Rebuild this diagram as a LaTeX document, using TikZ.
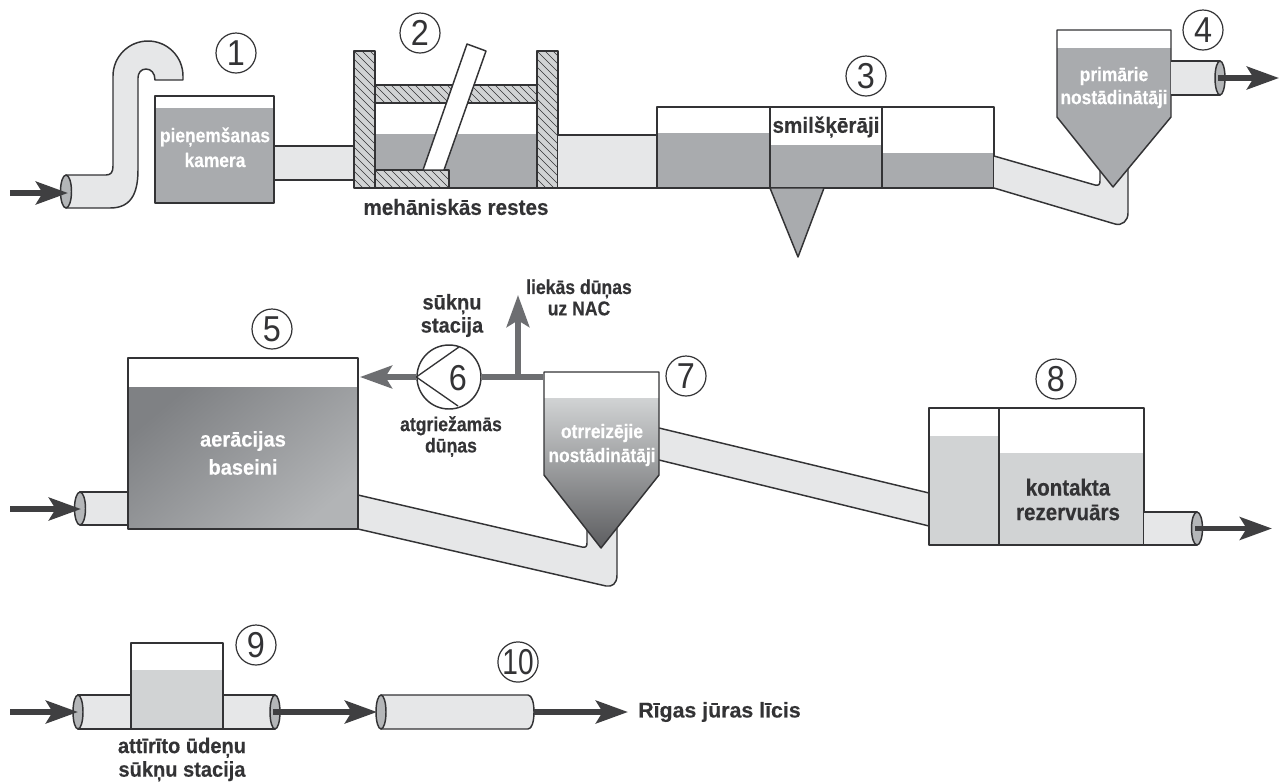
\documentclass[tikz,border=0pt]{standalone}
\usepackage{fontspec}
\setmainfont{Liberation Sans}
\newfontfamily\fA[FakeStretch=0.88,BoldFeatures={FakeBold=0.35}]{Liberation Sans}
\newfontfamily\fB[FakeStretch=0.94,BoldFeatures={FakeBold=0.35}]{Liberation Sans}
\newfontfamily\fC[FakeStretch=1.0,BoldFeatures={FakeBold=0.35}]{Liberation Sans}
\newfontfamily\digitfont[FakeStretch=0.9]{Liberation Sans}
\newfontfamily\digittight[FakeStretch=0.78]{Liberation Sans}
\usetikzlibrary{arrows.meta}
\definecolor{ink}{HTML}{333335}
\definecolor{water}{HTML}{A9ABAE}
\definecolor{clean}{HTML}{D1D3D4}
\definecolor{pipefill}{HTML}{E6E7E8}
\definecolor{capfill}{HTML}{B4B6B8}
\definecolor{arrowdark}{HTML}{3F3F41}
\definecolor{arrowgrey}{HTML}{6D6E71}
\definecolor{hatchbg}{HTML}{D1D3D4}
\definecolor{basintop}{HTML}{7F8184}
\definecolor{basinbot}{HTML}{B2B4B6}
\tikzset{
  outline/.style={draw=ink,line width=1.1pt,line join=round},
  pipebody/.style={outline,fill=pipefill},
  pipecap/.style={outline,fill=capfill},
  flow/.style={draw=arrowdark,line width=4.4pt,-{Stealth[length=24pt,width=17pt,inset=5pt]}},
  sludge/.style={draw=arrowgrey,line width=4.2pt,-{Stealth[length=24pt,width=17pt,inset=5pt]}},
  sludgeline/.style={draw=arrowgrey,line width=4.2pt},
  numcirc/.style={circle,draw=ink,line width=0.9pt,minimum size=30pt,inner sep=0pt,font=\digitfont\fontsize{27}{27}\selectfont,text=ink},
  lbl/.style={align=center,inner sep=0pt,text=ink},
  lblmech/.style={lbl,font=\fB\bfseries\fontsize{16.5}{17.3}\selectfont},
  lblsand/.style={lbl,font=\fB\bfseries\fontsize{16.5}{17.3}\selectfont},
  lblpump/.style={lbl,font=\fB\bfseries\fontsize{16}{17.3}\selectfont},
  lblsludge/.style={lbl,font=\fA\bfseries\fontsize{15}{16}\selectfont},
  lblcontact/.style={lbl,font=\fA\bfseries\fontsize{17.5}{18.5}\selectfont},
  lblsea/.style={lbl,font=\fC\bfseries\fontsize{16}{17.3}\selectfont},
  lblfinal/.style={lbl,font=\fB\bfseries\fontsize{16}{17.7}\selectfont},
  whitelbl/.style={lbl,text=white,font=\fA\bfseries\fontsize{14.8}{17.3}\selectfont},
  whitebig/.style={lbl,text=white,font=\fB\bfseries\fontsize{16}{17.3}\selectfont},
}
\newcommand{\hatchbox}[4]{%
  \begin{scope}
    \clip (#1,#2) rectangle (#3,#4);
    \fill[hatchbg] (#1,#2) rectangle (#3,#4);
    \pgfmathsetmacro{\hh}{#4-#2}
    \foreach \k in {-240,-232,...,600} {
      \draw[ink,line width=0.35pt] ({#1+\k},#2) -- ({#1+\k+\hh},#4);
    }
  \end{scope}
  \draw[outline] (#1,#2) rectangle (#3,#4);
}
\begin{document}
\begin{tikzpicture}[x=0.75pt,y=-0.75pt]
\useasboundingbox (0,0) rectangle (1279,783);

%% ---------- top row ----------
% intake pipe
\draw[pipebody] (66,175) -- (106,175) .. controls (111,175) and (113,172) .. (113,166)
  -- (113,76) arc[start angle=180,end angle=360,radius=35] -- (183,80) -- (155,80)
  .. controls (155,73) and (151,69) .. (146,69) .. controls (141,69) and (138,73) .. (138,78)
  -- (138,170) .. controls (138,195) and (130,208) .. (110,208) -- (66,208) -- cycle;
\draw[pipecap] (66,191.5) ellipse[x radius=5.5,y radius=16.5];
\coordinate (inA) at (10,193);
\coordinate (inAend) at (68,193);
\draw[flow] (inA) -- (inAend);

% pipe 1-2
\draw[pipebody] (274,146) -- (354,146) -- (354,180) -- (274,180);
% tank 1
\fill[white] (155,96) rectangle (274,203);
\fill[water] (155,108) rectangle (274,203);
\draw[outline] (155,96) rectangle (274,203);
\node[numcirc] (n1) at (236,53) {1};
\node[whitelbl] (t1a) at (215,137) {pieņemšanas};
\node[whitelbl] (t1b) at (215,160) {kamera};

% screens
\fill[water] (375,134) rectangle (537,188);
\draw[ink,line width=1.1pt] (375,188) -- (537,188);
\hatchbox{375}{85}{537}{103}
\hatchbox{375}{170}{449}{188}
\hatchbox{354}{51}{375}{188}
\hatchbox{537}{51}{558}{188}
\draw[outline,fill=white] (467,44) -- (486,51) -- (444,170) -- (423,170) -- cycle;
\node[numcirc] (n2) at (420,33) {2};
\node[lblmech] (t2) at (456,207) {mehāniskās restes};

% pipe 2-3
\draw[pipebody] (558,135) -- (657,135) -- (657,188) -- (558,188);

% grit chambers
\fill[water] (657,133) rectangle (770,188);
\fill[water] (770,145) rectangle (882,188);
\fill[water] (882,153) rectangle (994,188);
\draw[outline] (657,107) rectangle (994,188);
\draw[outline] (770,107) -- (770,188);
\draw[outline] (882,107) -- (882,188);
\draw[outline,fill=water] (770,188) -- (824,188) -- (798,257) -- cycle;
\node[numcirc] (n3) at (866,76) {3};
\node[lblsand] (t3) at (826,127) {smilšķērāji};

% pipe 3-primary
\draw[pipebody] (994,156) -- (1095,185) .. controls (1099,186) and (1100,184) .. (1100,181) -- (1100,165)
  -- (1128,165) -- (1128,213) .. controls (1128,221) and (1122,226) .. (1115,224) -- (994,188);
% primary settler
\fill[white] (1057,30) -- (1171,30) -- (1171,117) -- (1113,187) -- (1057,117) -- cycle;
\fill[water] (1057,48) -- (1171,48) -- (1171,117) -- (1113,187) -- (1057,117) -- cycle;
\draw[outline] (1057,30) -- (1171,30) -- (1171,117) -- (1113,187) -- (1057,117) -- cycle;
\node[whitelbl] (t4a) at (1114,76) {primārie};
\node[whitelbl] (t4b) at (1114,99) {nostādinātāji};
% pipe out
\draw[pipebody] (1171,61) -- (1220,61) -- (1220,95) -- (1171,95);
\draw[pipecap] (1220,78) ellipse[x radius=5,y radius=17];
\node[numcirc] (n4) at (1203,30) {4};
\coordinate (out4a) at (1218,78);
\coordinate (out4b) at (1279,78);
\draw[flow] (out4a) -- (out4b);

%% ---------- middle row ----------
% pipe in
\draw[pipebody] (128,492) -- (80,492) -- (80,525) -- (128,525);
\draw[pipecap] (80,508.5) ellipse[x radius=5.5,y radius=16.5];
\coordinate (in5a) at (10,509);
\coordinate (in5b) at (81,509);
\draw[flow] (in5a) -- (in5b);

% pipe 5-7
\draw[pipebody] (358,495) -- (582,547) .. controls (586,548) and (587,546) .. (587,543) -- (587,525)
  -- (617,525) -- (617,575) .. controls (617,584) and (612,587) .. (606,586) -- (358,529);

% aeration basin
\shade[top color=basintop,bottom color=basinbot,shading angle=40] (128,387) rectangle (358,529);
\draw[outline] (128,358) rectangle (358,529);
\node[numcirc] (n5) at (272,329) {5};
\node[whitebig] (t5a) at (243,441) {aerācijas};
\node[whitebig] (t5b) at (243,467) {baseini};

% pipe 7-8
\draw[pipebody] (659,428) -- (929,493) -- (929,526) -- (659,460);

% secondary settler
\fill[white] (544,372) -- (659,372) -- (659,475) -- (601,548) -- (544,475) -- cycle;
\shade[top color=clean,bottom color=arrowgrey!85!black] (544,398) -- (659,398) -- (659,475) -- (601,548) -- (544,475) -- cycle;
\draw[outline] (544,372) -- (659,372) -- (659,475) -- (601,548) -- (544,475) -- cycle;
\node[whitelbl] (t7a) at (602,433) {otrreizējie};
\node[whitelbl] (t7b) at (602,457) {nostādinātāji};
\node[numcirc] (n7) at (686,376) {7};

% pump and sludge
\node[circle,draw=ink,line width=1.1pt,fill=white,minimum size=48pt,inner sep=0pt] (pump) at (449,377) {};
\node[inner sep=0pt,font=\digitfont\fontsize{27}{27}\selectfont,text=ink] (n6) at (458,378) {6};
\coordinate (p1) at (459,347);
\coordinate (p2) at (458,406);
\draw[ink,line width=1pt,line join=round] (p1) -- (pump.west) -- (p2);
\coordinate (t5in) at (360,377);
\coordinate (t7out) at (543,377);
\coordinate (tee) at (518,377);
\coordinate (upend) at (518,295);
\draw[sludge] (pump.west) -- (t5in);
\draw[sludgeline] (pump.east) -- (t7out);
\draw[sludge] (tee) -- (upend);
\node[lblpump] (t6a) at (452,315.5) {sūkņu\\stacija};
\node[lblsludge] (t6b) at (579,297.5) {liekās dūņas\\uz NAC};
\node[lblsludge] (t6c) at (451,436.5) {atgriežamās\\dūņas};

% contact tank
\fill[clean] (929,436) rectangle (999,545);
\fill[clean] (999,453) rectangle (1144,545);
\draw[outline] (929,408) rectangle (1144,545);
\draw[outline] (999,408) -- (999,545);
\node[numcirc] (n8) at (1056,379) {8};
\node[lblcontact] (t8) at (1068,499.5) {kontakta\\rezervuārs};
\draw[pipebody] (1144,512) -- (1197,512) -- (1197,545) -- (1144,545);
\draw[pipecap] (1197,528.5) ellipse[x radius=5.5,y radius=16.5];
\coordinate (out8a) at (1195,528.5);
\coordinate (out8b) at (1272,528.5);
\draw[flow] (out8a) -- (out8b);

%% ---------- bottom row ----------
\draw[pipebody] (78,695) rectangle (275,729);
\draw[pipecap] (78,712) ellipse[x radius=5,y radius=17];
\draw[pipecap] (275,712) ellipse[x radius=5,y radius=17];
\fill[white] (131,643) rectangle (223,729);
\fill[clean] (131,670) rectangle (223,729);
\draw[outline] (131,643) rectangle (223,729);
\node[numcirc] (n9) at (256,645) {9};
\node[lblfinal] (t9) at (182,759.5) {attīrīto ūdeņu\\sūkņu stacija};
\coordinate (in9a) at (10,712);
\coordinate (in9b) at (78,712);
\draw[flow] (in9a) -- (in9b);

% outfall
\draw[pipebody] (381,695) -- (528,695) .. controls (532,695) and (534,703) .. (534,712)
  .. controls (534,721) and (532,729) .. (528,729) -- (381,729) -- cycle;
\draw[pipecap] (381,712) ellipse[x radius=5,y radius=17];
\coordinate (c9a) at (273,712);
\coordinate (c9b) at (377,712);
\draw[flow] (c9a) -- (c9b);
\coordinate (c10a) at (534,712);
\coordinate (c10b) at (628,712);
\draw[flow] (c10a) -- (c10b);
\node[numcirc,font=\digittight\fontsize{27}{27}\selectfont] (n10) at (518,662) {10};
\node[lblsea,anchor=west] (t10) at (638,712) {Rīgas jūras līcis};
\end{tikzpicture}
\end{document}
